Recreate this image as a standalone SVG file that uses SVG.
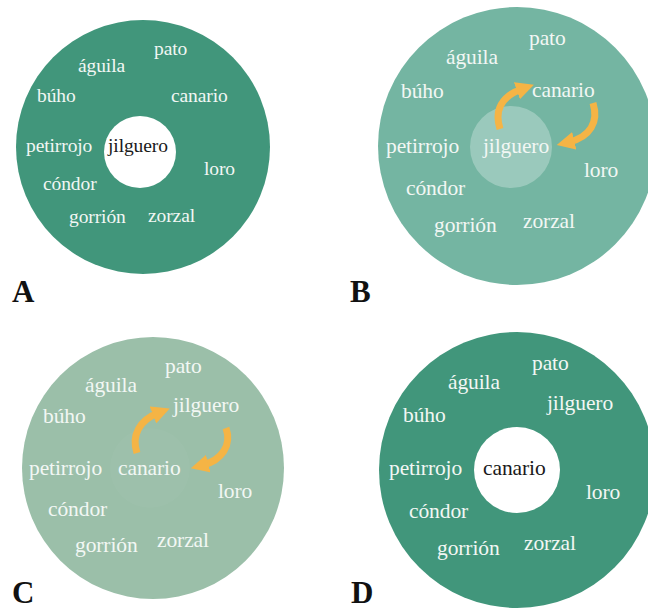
<svg xmlns="http://www.w3.org/2000/svg" width="648" height="610" viewBox="0 0 648 610">
<style>
text{font-family:'Liberation Serif','DejaVu Serif',serif}
.w{fill:#f2f7f4;letter-spacing:-0.1px}
.k{fill:#1a1a1a;letter-spacing:-0.1px}
.a{font-size:19.5px}
.b{font-size:21.5px}
.lab{font-weight:bold;font-size:31px;fill:#111}
.arr{fill:none;stroke:#f5b445;stroke-width:7;marker-end:url(#ah)}
</style>
<defs>
<marker id="ah" viewBox="0 0 10 10" refX="3" refY="5" markerWidth="18" markerHeight="18" markerUnits="userSpaceOnUse" orient="auto"><path d="M0,0 L10,5 L0,10 z" fill="#f5b445"/></marker>
</defs>
<rect width="648" height="610" fill="#ffffff"/>

<g id="panelA" font-family="Liberation Serif, DejaVu Serif, serif">
<circle cx="143" cy="147" r="127" fill="#41967b"/>
<circle cx="140" cy="152" r="36" fill="#ffffff"/>
<g id="a-pato"><text class="w a" x="154" y="55">pato</text></g>
<g id="a-aguila"><text class="w a" x="78" y="72">águila</text></g>
<g id="a-buho"><text class="w a" x="37" y="102">búho</text></g>
<g id="a-canario"><text class="w a" x="171" y="102">canario</text></g>
<g id="a-petirrojo"><text class="w a" x="26" y="152">petirrojo</text></g>
<g id="a-jilguero"><text class="k a" x="108" y="152">jilguero</text></g>
<g id="a-loro"><text class="w a" x="204" y="175">loro</text></g>
<g id="a-condor"><text class="w a" x="43" y="190">cóndor</text></g>
<g id="a-gorrion"><text class="w a" x="69" y="223">gorrión</text></g>
<g id="a-zorzal"><text class="w a" x="148" y="222">zorzal</text></g>
<text class="lab" x="12" y="302">A</text>
</g>

<g id="panelB" font-family="Liberation Serif, DejaVu Serif, serif">
<circle cx="517" cy="146" r="139" fill="#74b5a2"/>
<circle cx="511" cy="147" r="41" fill="#ffffff" fill-opacity="0.28"/>
<g id="b-pato"><text class="w b" x="529" y="45">pato</text></g>
<g id="b-aguila"><text class="w b" x="446" y="64">águila</text></g>
<g id="b-buho"><text class="w b" x="401" y="98">búho</text></g>
<g id="b-canario"><text class="w b" x="532" y="97">canario</text></g>
<g id="b-petirrojo"><text class="w b" x="386" y="153">petirrojo</text></g>
<g id="b-jilguero"><text class="w b" x="483" y="153">jilguero</text></g>
<g id="b-loro"><text class="w b" x="584" y="177">loro</text></g>
<g id="b-condor"><text class="w b" x="406" y="195">cóndor</text></g>
<g id="b-gorrion"><text class="w b" x="434" y="232">gorrión</text></g>
<g id="b-zorzal"><text class="w b" x="523" y="228">zorzal</text></g>
<text class="lab" x="350" y="302">B</text>
</g>

<g id="panelC" font-family="Liberation Serif, DejaVu Serif, serif">
<circle cx="153" cy="468" r="131" fill="#9bbfa9"/>
<circle cx="150" cy="468" r="40" fill="#ffffff" fill-opacity="0.025"/>
<g id="c-pato"><text class="w b" x="165" y="373">pato</text></g>
<g id="c-aguila"><text class="w b" x="85" y="392">águila</text></g>
<g id="c-buho"><text class="w b" x="43" y="423">búho</text></g>
<g id="c-jilguero"><text class="w b" x="173" y="412">jilguero</text></g>
<g id="c-petirrojo"><text class="w b" x="29" y="475">petirrojo</text></g>
<g id="c-canario"><text class="w b" x="118" y="475">canario</text></g>
<g id="c-loro"><text class="w b" x="218" y="498">loro</text></g>
<g id="c-condor"><text class="w b" x="48" y="516">cóndor</text></g>
<g id="c-gorrion"><text class="w b" x="75" y="552">gorrión</text></g>
<g id="c-zorzal"><text class="w b" x="157" y="547">zorzal</text></g>
<text class="lab" x="12" y="603">C</text>
</g>

<g id="panelD" font-family="Liberation Serif, DejaVu Serif, serif">
<circle cx="517" cy="470" r="138" fill="#41967b"/>
<circle cx="517" cy="470" r="43" fill="#ffffff"/>
<g id="d-pato"><text class="w b" x="532" y="370">pato</text></g>
<g id="d-aguila"><text class="w b" x="448" y="389">águila</text></g>
<g id="d-buho"><text class="w b" x="403" y="422">búho</text></g>
<g id="d-jilguero"><text class="w b" x="547" y="410">jilguero</text></g>
<g id="d-petirrojo"><text class="w b" x="389" y="475">petirrojo</text></g>
<g id="d-canario"><text class="k b" x="483" y="475">canario</text></g>
<g id="d-loro"><text class="w b" x="586" y="499">loro</text></g>
<g id="d-condor"><text class="w b" x="409" y="518">cóndor</text></g>
<g id="d-gorrion"><text class="w b" x="437" y="555">gorrión</text></g>
<g id="d-zorzal"><text class="w b" x="524" y="550">zorzal</text></g>
<text class="lab" x="351" y="603">D</text>
</g>

<g id="connectors">
<path class="arr" d="M500,129 C494,110 502,96 522,89"/>
<path class="arr" d="M593,103 C599,122 590,137 569,142"/>
<path class="arr" d="M137,453 C131,435 140,420 158,413"/>
<path class="arr" d="M226,428 C232,445 222,460 203,465"/>
</g>
</svg>
